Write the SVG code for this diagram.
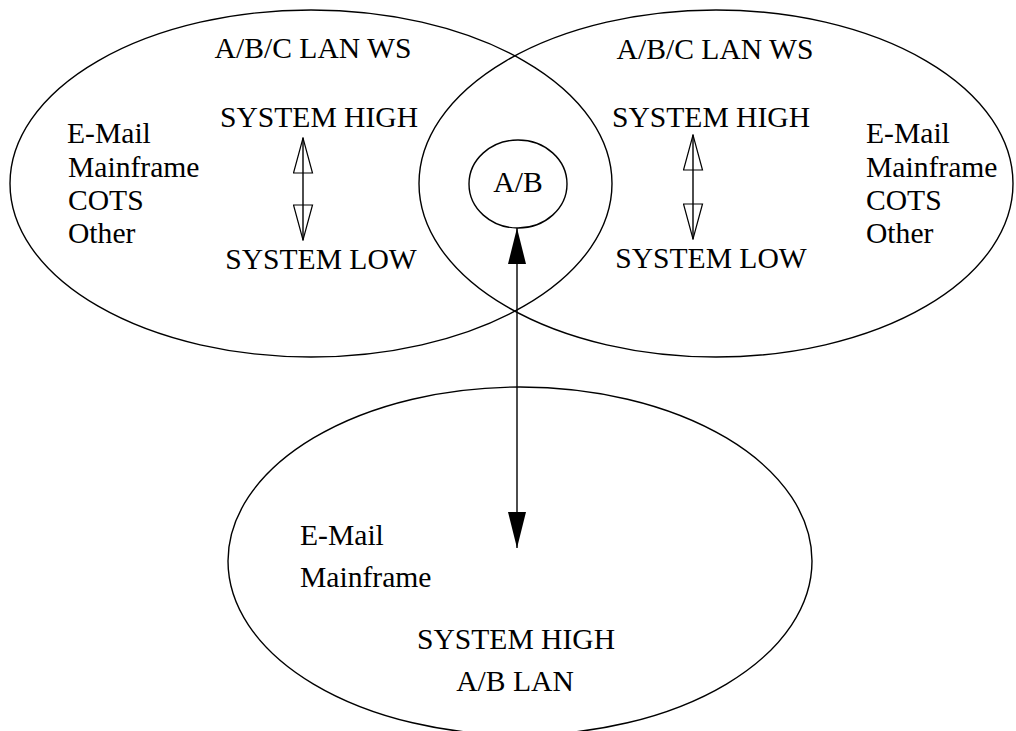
<svg xmlns="http://www.w3.org/2000/svg" width="1016" height="731" viewBox="0 0 1016 731">
<style>
.shape{fill:none;stroke:#000;stroke-width:1.4}
.t{font-family:"Liberation Serif","Times New Roman",serif;font-size:29.6px;fill:#000}
.c{text-anchor:middle}
.conn{stroke:#000;stroke-width:1.4;fill:none}
</style>
<defs>
<marker id="solid" viewBox="0 0 36 18" refX="36" refY="9" markerWidth="36" markerHeight="18" markerUnits="userSpaceOnUse" orient="auto-start-reverse">
<path d="M0,0 L36,9 L0,18 z" fill="#000"/>
</marker>
<marker id="hollow" viewBox="-1 -1 37 21" refX="35" refY="9.5" markerWidth="37" markerHeight="21" markerUnits="userSpaceOnUse" orient="auto-start-reverse">
<path d="M0,0 L35,9.5 L0,19 z" fill="none" stroke="#000" stroke-width="1.2"/>
</marker>
</defs>
<rect width="1016" height="731" fill="#fff"/>
<g id="left-ws">
<ellipse class="shape" cx="311" cy="183.5" rx="301" ry="173.5"/>
<text class="t c" x="313" y="58">A/B/C LAN WS</text>
<text class="t c" x="319" y="127">SYSTEM HIGH</text>
<text class="t c" x="321" y="269">SYSTEM LOW</text>
<text class="t" x="67" y="143">E-Mail</text>
<text class="t" x="68" y="177">Mainframe</text>
<text class="t" x="68" y="210">COTS</text>
<text class="t" x="68" y="243">Other</text>
</g>
<g id="right-ws">
<ellipse class="shape" cx="716" cy="183.5" rx="297" ry="173.5"/>
<text class="t c" x="715" y="59">A/B/C LAN WS</text>
<text class="t c" x="711" y="127">SYSTEM HIGH</text>
<text class="t c" x="711" y="268">SYSTEM LOW</text>
<text class="t" x="866" y="143">E-Mail</text>
<text class="t" x="866" y="177">Mainframe</text>
<text class="t" x="866" y="210">COTS</text>
<text class="t" x="866" y="243">Other</text>
</g>
<g id="ab">
<ellipse class="shape" cx="518" cy="184" rx="49" ry="44"/>
<text class="t c" x="518" y="192">A/B</text>
</g>
<g id="ab-lan">
<ellipse class="shape" cx="520" cy="561" rx="292" ry="174"/>
<text class="t" x="300" y="545">E-Mail</text>
<text class="t" x="300" y="587">Mainframe</text>
<text class="t c" x="516" y="649">SYSTEM HIGH</text>
<text class="t c" x="515" y="691">A/B LAN</text>
</g>
<g id="connectors">
<line class="conn" x1="517" y1="228" x2="517" y2="548" marker-start="url(#solid)" marker-end="url(#solid)"/>
<line class="conn" x1="303" y1="138" x2="303" y2="240" marker-start="url(#hollow)" marker-end="url(#hollow)"/>
<line class="conn" x1="693" y1="135" x2="693" y2="239" marker-start="url(#hollow)" marker-end="url(#hollow)"/>
</g>
</svg>
